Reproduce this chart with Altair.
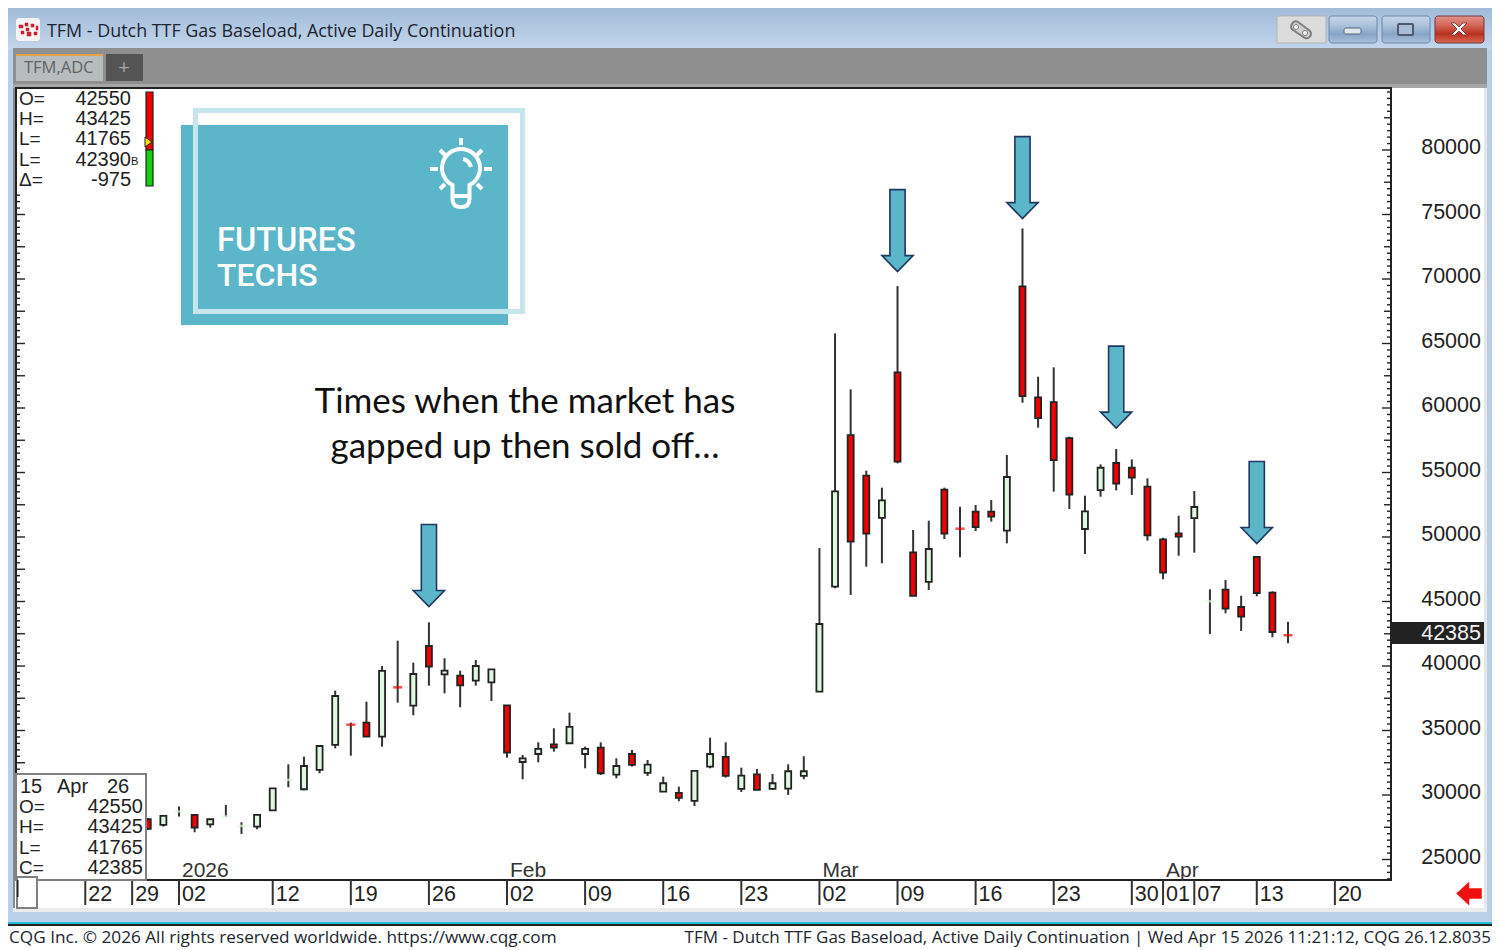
import altair as alt
import pandas as pd

# ---- data ----
bar_index = list(range(-2, 72))
opens = [28120,27680,28700,28455,27730,28320,27600,27550,28815,31165,30445,31940,33880,35455,35610,34525,38350,36925,41550,39355,39250,38865,38735,36955,32560,33180,33930,34010,33180,33670,31580,33180,31710,30265,30160,29540,32200,32950,30470,31605,30470,30495,31475,38010,46150,57905,54755,51475,62760,48810,46515,53670,50650,51965,51965,50490,69425,60825,60460,57670,50620,53640,55735,55370,53900,49820,50285,51470,45010,45915,44575,48450,45685,42550]
highs = [28200,28455,29100,28455,28120,29230,27885,28455,30520,32380,32975,33800,38090,35610,37235,40000,41965,40260,43385,40595,39640,40465,39740,36955,33105,34085,35170,36385,33750,34085,32845,33490,32715,31425,30650,31865,34445,34085,32120,32020,31630,32380,33000,49145,65785,61445,55140,53825,69450,50545,51265,53825,52350,52480,52870,56355,73920,62425,63150,57775,53200,55630,56820,56015,54545,49945,51650,53565,45945,46665,45450,48450,45790,43425]
lows = [27300,27550,28325,27110,27475,28320,26980,27345,28815,30600,30365,31685,33620,33050,34525,33750,37160,36180,38475,37880,36800,38475,37290,32895,31220,32535,33360,34010,32070,31555,31295,32200,31475,30265,29515,29150,32070,31350,30235,30390,30390,30005,31220,37985,46025,45505,47700,47960,55710,45430,45895,49845,48425,50465,51190,49510,60410,58475,53515,52170,48680,53125,53615,53255,49715,46720,48550,48785,42480,44085,42715,45400,42225,41765]
closes = [27370,28375,28725,27475,28120,28330,27605,28455,30520,31170,32250,33800,37675,35450,34525,39615,38345,39380,39950,39640,38500,40000,39740,33285,32845,33570,33670,35275,33570,31685,32250,32330,32355,30910,29770,31865,33180,31475,31500,30390,30910,31840,31840,43255,53540,49640,50260,52840,55840,45430,49070,50260,50645,50775,51575,54650,60925,59220,55965,53280,51985,55370,54130,54595,50130,47235,50025,52325,45015,44445,43825,45660,42635,42385]

date_tick_index = [-6,-3,0,6,11,16,21,26,31,36,41,46,51,56,61,63,65,69,74]
date_tick_label = ["22","29","02","12","19","26","02","09","16","23","02","09","16","23","30","01","07","13","20"]
month_index = [0,21,41,63]
month_label = ["2026","Feb","Mar","Apr"]
price_labels = [25000,30000,35000,40000,45000,50000,55000,60000,65000,70000,75000,80000]
arrow_index = [16,46,54,60,69]
arrow_price = [47790,73750,77860,61620,52670]

title = "TFM - Dutch TTF Gas Baseload, Active Daily Continuation"
status_left = "CQG Inc. © 2026 All rights reserved worldwide. https://www.cqg.com"
status_right = title + " | Wed Apr 15 2026 11:21:12, CQG 26.12.8035"

# ---- scales: reference pixel positions (x = 179 + 15.62 i, y = 666 at 40000, 64.5 px per 5000) ----
W, H = 1484, 942
PX_BAR = 15.62
x_scale = alt.Scale(domain=[-171 / PX_BAR, (W - 171) / PX_BAR], nice=False, zero=False, padding=0)
y_scale = alt.Scale(domain=[40000 - 284 / 0.0129, 40000 + 658 / 0.0129], nice=False, zero=False, padding=0)
X = lambda f: alt.X(f, type="quantitative", scale=x_scale, axis=None)
Y = lambda f: alt.Y(f, type="quantitative", scale=y_scale, axis=None)

one = pd.DataFrame({"a": [0]})
SANS = "Liberation Sans"
UI = "Open Sans"
layers = []


def box(x0, y0, x1, y1, **kw):
    layers.append(alt.Chart(one).mark_rect(**kw).encode(
        x=alt.value(x0 - 8), x2=alt.value(x1 - 8), y=alt.value(y0 - 8), y2=alt.value(y1 - 8)))


def txt(s, x, y, size, color="#222222", align="left", font=SANS, weight="normal"):
    layers.append(alt.Chart(one).mark_text(text=s, fontSize=size, color=color, align=align, font=font,
                                           fontWeight=weight, baseline="alphabetic").encode(
        x=alt.value(x - 8), y=alt.value(y - 8)))


def sym(path, x, y, **kw):
    layers.append(alt.Chart(one).mark_point(shape=path, size=4, opacity=1, **kw).encode(
        x=alt.value(x - 8), y=alt.value(y - 8)))


def vgrad(*cols):
    n = len(cols) - 1
    return alt.LinearGradient(gradient="linear", x1=0, x2=0, y1=0, y2=1,
                              stops=[alt.GradientStop(color=c, offset=k / n) for k, c in enumerate(cols)])


# ---- window chrome ----
box(0, 0, 1500, 50, color=vgrad("#9bb6d5", "#c3d7ec"))
box(0, 50, 13, 925, color="#b8d0ea")
box(1487, 50, 1500, 925, color="#b8d0ea")
box(13, 48, 1487, 84, color="#8f8f8f")
box(13, 84, 1487, 88, color="#a6a6a6")
box(13, 88, 1487, 912, color="#ffffff")
box(13, 88, 15, 912, color="#8a8a8a")
box(1484, 88, 1487, 912, color="#e6e6e6")
box(13, 908, 1487, 912, color="#ececec")
box(13, 912, 1487, 923, color="#b8d0ea")
box(0, 922, 1500, 924, color="#27bdd6")
box(0, 924, 1500, 926, color="#222222")
box(0, 926, 1500, 950, color="#ffffff")

txt(title, 47, 37, 17.9, "#1c2430", font=UI)
box(16, 18, 40, 41, color="#f4f4f4", cornerRadius=3)
sym("M-9 -5h4v3h-4zM-3 -7h3v3h-3zM3 -6h3v3h-3zM8 -4h2v4h-2zM-7 1h3v3h-3zM-1 2h4v4h-4zM-2 -2h3v3h-3zM6 2h3v3h-3z",
    28, 30, fill="#c8202c", stroke="#c8202c", strokeWidth=0.5, filled=True)

box(1277, 16, 1326, 43, color="#dcdcdc", stroke="#b4b4b4")
sym("M-9 -6A4 4 0 0 1 -3 -8L9 1A4.5 4.5 0 0 1 4 8L-8 0A4 4 0 0 1 -9 -6Z", 1301, 30,
    fill="#cfcfcf", stroke="#808080", strokeWidth=2, filled=True)
sym("M-2.5 0A2.5 2.5 0 1 1 2.5 0A2.5 2.5 0 1 1 -2.5 0Z", 1296, 27, fill="#f0f0f0", stroke="#808080", strokeWidth=1, filled=True)
sym("M-2.5 0A2.5 2.5 0 1 1 2.5 0A2.5 2.5 0 1 1 -2.5 0Z", 1305, 33, fill="#f0f0f0", stroke="#808080", strokeWidth=1, filled=True)
box(1329, 16, 1377, 43, color=vgrad("#c4d6ea", "#adc4de", "#86a4c6", "#a9c2dc"), stroke="#6f88a8", cornerRadius=3)
box(1344, 28, 1361, 34, color="#dfe6ee", stroke="#5a6478", cornerRadius=2)
box(1382, 16, 1430, 43, color=vgrad("#c4d6ea", "#adc4de", "#86a4c6", "#a9c2dc"), stroke="#6f88a8", cornerRadius=3)
box(1398, 24, 1413, 35, color="#a8bed8", stroke="#4f5a70", strokeWidth=2, cornerRadius=1)
box(1435, 16, 1484, 43, color=vgrad("#e2938a", "#d4685c", "#b8301f", "#d96a55"), stroke="#6e3a40", cornerRadius=3)
sym("M-8 -6L-4 -6L0 -2L4 -6L8 -6L2 0L8 6L4 6L0 2L-4 6L-8 6L-2 0Z", 1459, 29,
    fill="#f4f4f4", stroke="#6a3a3a", strokeWidth=0.8, filled=True)

box(16, 54, 103, 81, color="#b8bcbc")
box(16, 54, 103, 56, color="#e8a24a")
txt("TFM,ADC", 24, 73, 16.5, "#5f6468", font=UI)
box(106, 54, 143, 81, color="#545454")
txt("+", 124, 74, 20, "#a8a8a8", align="center", font=UI)

# ---- logo ----
box(181, 125, 508, 325, color="#5cb6c9")
box(195.5, 110.5, 522.5, 311.5, fill="#ffffff", fillOpacity=0, stroke="#c4e6ec", strokeWidth=5)
sym("M-8.5 15A19 19 0 1 1 8.5 15L8.5 29Q8.5 37 0 37Q-8.5 37 -8.5 29ZM-8.5 26L8.5 26M2 -11Q8 -10 10 -3"
    "M0 -32L0 -25M-21 -20L-16 -15M21 -20L16 -15M-31 -1L-23 -1M31 -1L23 -1M-21 19L-16 14M21 19L16 14",
    461, 170, stroke="#ffffff", strokeWidth=4, filled=False)
txt("FUTURES", 217, 251, 32.5, "#ffffff", font="Roboto", weight=500)
txt("TECHS", 217, 286, 32, "#ffffff", font="Roboto", weight=500)

# ---- annotation ----
txt("Times when the market has", 525, 413, 35, "#111111", align="center", font="Lato")
txt("gapped up then sold off…", 525, 458, 35, "#111111", align="center", font="Lato")

# ---- price ticks ----
plot_right, plot_left = 1391, 16
right_ticks = pd.DataFrame({"p": list(range(23500, 85000, 500))})
right_ticks["len"] = right_ticks["p"].map(lambda p: 9 if p % 5000 == 0 else (7 if p % 2500 == 0 else 4))
left_ticks = pd.DataFrame({"p": list(range(31500, 77000, 500))})
left_ticks["len"] = left_ticks["p"].map(lambda p: 9 if p % 2500 == 0 else 4)
for n in (9, 7, 4):
    layers.append(alt.Chart(right_ticks[right_ticks["len"] == n]).mark_rule(color="#222222", strokeWidth=1.4).encode(
        y=Y("p"), x=alt.value(plot_right - 8 - n), x2=alt.value(plot_right - 8)))
for n in (9, 4):
    layers.append(alt.Chart(left_ticks[left_ticks["len"] == n]).mark_rule(color="#222222", strokeWidth=1.4).encode(
        y=Y("p"), x=alt.value(plot_left - 8), x2=alt.value(plot_left - 8 + n)))

layers.append(alt.Chart(pd.DataFrame({"p": price_labels, "t": [str(v) for v in price_labels]})).mark_text(
    fontSize=21.5, font=SANS, color="#222222", align="right", baseline="middle", dy=-2).encode(
    y=Y("p"), x=alt.value(1481 - 8), text="t:N"))

# ---- candles ----
df = pd.DataFrame({"i": bar_index, "o": opens, "h": highs, "l": lows, "c": closes})
df["dir"] = ["up" if c > o else "down" for o, c in zip(opens, closes)]
df["doji"] = [abs(o - c) < 200 for o, c in zip(opens, closes)]
bodies, dojis = df[~df["doji"]], df[df["doji"]]

layers.append(alt.Chart(df).mark_rule(color="#333333", strokeWidth=2).encode(x=X("i"), y=Y("h"), y2="l:Q"))
layers.append(alt.Chart(bodies).mark_bar(size=6, stroke="#222222", strokeWidth=1.8).encode(
    x=X("i"), y=Y("o"), y2="c:Q",
    color=alt.Color("dir:N", legend=None, scale=alt.Scale(domain=["up", "down"], range=["#e0f8e0", "#f00000"]))))
layers.append(alt.Chart(dojis).mark_tick(orient="horizontal", size=9, thickness=2.5).encode(
    x=X("i"), y=Y("c"),
    color=alt.Color("dir:N", legend=None, scale=alt.Scale(domain=["up", "down"], range=["#cdf2cd", "#f81010"]))))

# ---- arrows ----
layers.append(alt.Chart(pd.DataFrame({"i": arrow_index, "p": arrow_price})).mark_point(
    shape="M-7.6 -41L7.6 -41L7.6 25L15.6 25L0 41L-15.6 25L-7.6 25Z", size=4, opacity=1, filled=True,
    fill="#5cb6c9", stroke="#1f3864", strokeWidth=1.6).encode(x=X("i"), y=Y("p")))

# ---- plot frame and date axis ----
box(16, 88, 1391, 880, fill="#ffffff", fillOpacity=0, stroke="#222222", strokeWidth=2)

dt = pd.DataFrame({"i": date_tick_index, "t": date_tick_label})
layers.append(alt.Chart(dt).mark_rule(color="#333333", strokeWidth=2).encode(
    x=X("i"), y=alt.value(880 - 8), y2=alt.value(905 - 8)))
layers.append(alt.Chart(dt).mark_text(fontSize=21.5, font=SANS, color="#222222", align="left",
                                      baseline="alphabetic", dx=3).encode(x=X("i"), y=alt.value(901 - 8), text="t:N"))
layers.append(alt.Chart(pd.DataFrame({"i": month_index, "t": month_label})).mark_text(
    fontSize=21, font=SANS, color="#333333", align="left", baseline="alphabetic", dx=3).encode(
    x=X("i"), y=alt.value(877 - 8), text="t:N"))

# ---- readouts ----
for k, (a, b) in enumerate([("O=", "42550"), ("H=", "43425"), ("L=", "41765"), ("L=", "42390"), ("Δ=", "-975")]):
    yy = 105 + k * 20.2
    txt(a, 19, yy, 19, "#222222")
    txt(b, 131, yy, 20, "#222222", align="right")
txt("B", 131, 165, 11, "#222222")
box(146, 92, 153, 150, color="#f00000", stroke="#222222", strokeWidth=1.2)
box(146, 150, 153, 186, color="#10d010", stroke="#222222", strokeWidth=1.2)
sym("M-3 -5L4 0L-3 5Z", 148, 142, fill="#ffe000", stroke="#222222", strokeWidth=1, filled=True)

box(16, 774, 146, 880, color="#ffffff", stroke="#808080", strokeWidth=2)
box(17, 877, 37, 908, color="#ffffff", stroke="#808080", strokeWidth=2)
box(17, 880, 18.5, 897, color="#222222")
txt("15", 20, 793, 20)
txt("Apr", 57, 793, 20)
txt("26", 107, 793, 20)
for k, (a, b) in enumerate([("O=", "42550"), ("H=", "43425"), ("L=", "41765"), ("C=", "42385")]):
    yy = 813 + k * 20.3
    txt(a, 19, yy, 19)
    txt(b, 143, yy, 20, align="right")

box(1392, 622, 1484, 644, color="#222222")
txt("42385", 1481, 640, 21.5, "#f2f2f2", align="right")
sym("M-12.5 0L0 -11.5L0 -5L12.5 -5L12.5 5L0 5L0 11.5Z", 1469, 893.5, fill="#f01010", stroke="#f01010",
    strokeWidth=0.5, filled=True)

# ---- status bar ----
txt(status_left, 9, 943, 17.2, "#20262e", font=UI)
txt(status_right, 1491, 943, 17.0, "#20262e", align="right", font=UI)

chart = alt.layer(*layers).properties(
    width=W, height=H, padding=0, autosize=alt.AutoSizeParams(type="none"),
).configure_view(stroke=None)

chart.save("out.html", embed_options={"renderer": "svg", "actions": False})
